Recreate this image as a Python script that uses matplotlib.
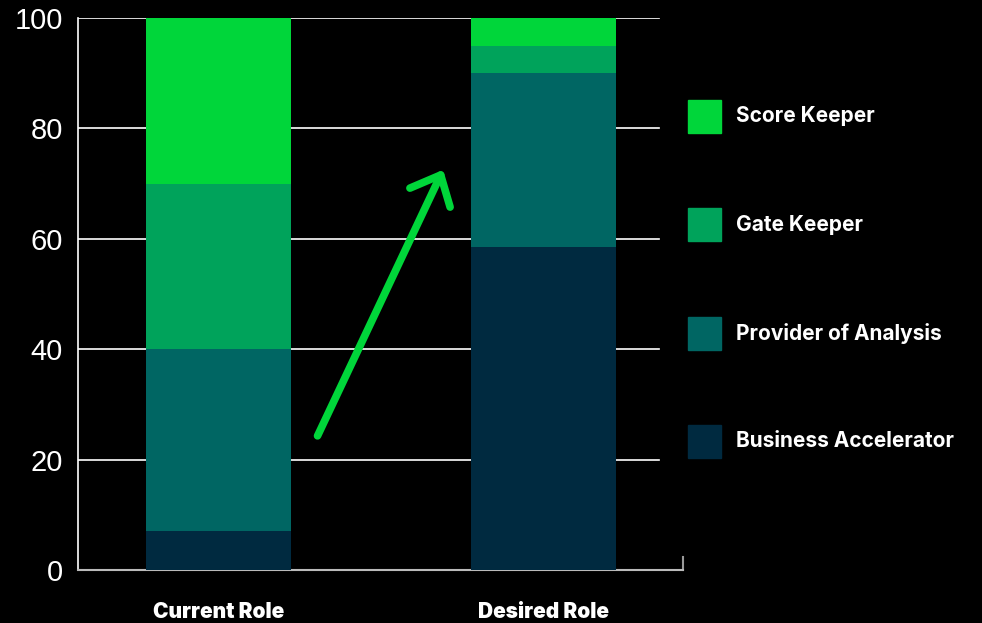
import numpy as np
import matplotlib.pyplot as plt
from matplotlib.patches import Rectangle

# Data
roles = ["Current Role", "Desired Role"]
series = ["Business Accelerator", "Provider of Analysis", "Gate Keeper", "Score Keeper"]
business_accelerator = [7, 58.5]
provider_of_analysis = [33, 31.5]
gate_keeper = [30, 5]
score_keeper = [30, 5]
yticks = [0, 20, 40, 60, 80, 100]

colors = ["#002a40", "#006663", "#00a35b", "#00d63a"]

fig = plt.figure(figsize=(9.82, 6.23), dpi=100, facecolor="black")
ax = fig.add_axes([78 / 982, 1 - 570 / 623, 605 / 982, 552 / 623])
ax.set_facecolor("black")

x = np.arange(len(roles))
bottom = np.zeros(len(roles))
for name, vals, c in zip(series,
                         [business_accelerator, provider_of_analysis, gate_keeper, score_keeper],
                         colors):
    ax.bar(x, vals, width=0.447, bottom=bottom, color=c, label=name, zorder=3)
    bottom += np.array(vals)

ax.set_xlim(-0.433, 1.431)
ax.set_ylim(0, 100)

#Gridlines stop a bit short of the right end
for yv in yticks[1:]:
    ax.axhline(yv, xmin=0, xmax=0.96, color="white", lw=1.2, zorder=1)

ax.spines["top"].set_visible(False)
ax.spines["left"].set_color("white")
ax.spines["left"].set_linewidth(1.2)
ax.spines["bottom"].set_color("#bbbbbb")
ax.spines["bottom"].set_linewidth(1.5)
ax.spines["right"].set_color("#999999")
ax.spines["right"].set_linewidth(1.5)
ax.spines["right"].set_bounds(0, 2.4)

ax.set_yticks(yticks)
ax.set_yticklabels([str(v) for v in yticks], fontsize=21, color="white",
                   family="Liberation Sans")
ax.tick_params(axis="y", length=0, pad=11)
ax.set_xticks(x)
ax.set_xticklabels(roles, fontsize=15, color="white", family="Inter", fontweight="black")
ax.tick_params(axis="x", length=0, pad=23)

#Arrow
ax.annotate("", xy=(0.692, 72.5), xytext=(0.305, 24.3),
            arrowprops=dict(arrowstyle="->,head_length=0.9,head_width=0.8",
                            mutation_scale=20,
                            color="#00d63a", lw=5.5, capstyle="round",
                            joinstyle="round", shrinkA=0, shrinkB=0),
            zorder=4)

#Legend drawn by hand, top entry first
for i, (name, c) in enumerate(zip(series[::-1], colors[::-1])):
    top = 100 + i * 108.3
    fig.add_artist(Rectangle((688 / 982, 1 - (top + 33) / 623), 33 / 982, 33 / 623,
                             transform=fig.transFigure, color=c))
    fig.text(736 / 982, 1 - (top + 16.5) / 623, name, color="white", fontsize=15,
             family="Inter", fontweight="bold", va="center", ha="left")

plt.savefig("out.png", facecolor="black")
